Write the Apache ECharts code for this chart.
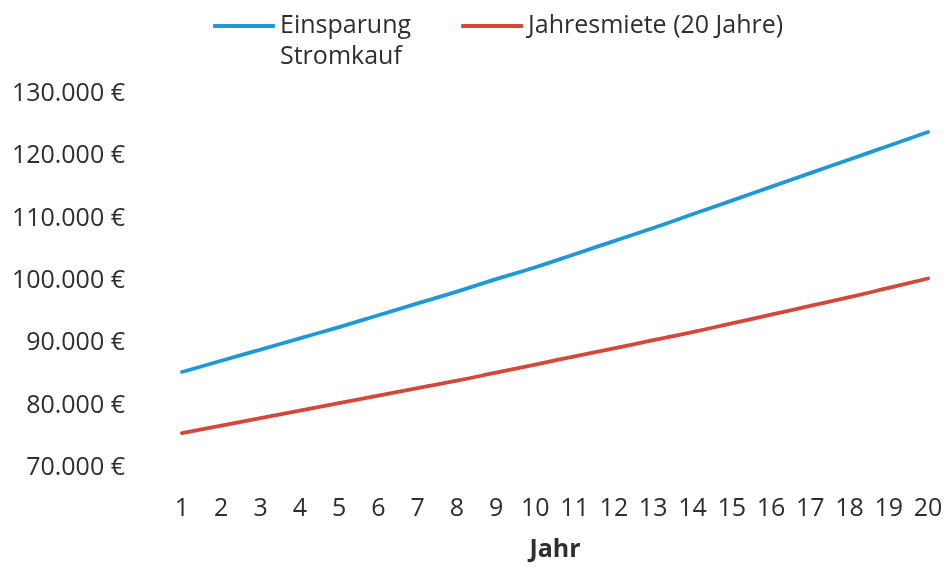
<!DOCTYPE html>
<html>
<head>
<meta charset="utf-8">
<script src="https://cdn.jsdelivr.net/npm/echarts@6/dist/echarts.min.js"></script>
<style>
html,body{margin:0;padding:0;background:#fff;}
#c{width:948px;height:567px;}
</style>
</head>
<body>
<div id="c"></div>
<script>
var years = ['1','2','3','4','5','6','7','8','9','10','11','12','13','14','15','16','17','18','19','20'];
var seriesNames = ['Einsparung Stromkauf', 'Jahresmiete (20 Jahre)'];
var einsparung = [85400, 87200, 89000, 90800, 92600, 94500, 96400, 98300, 100300, 102200, 104300, 106400, 108500, 110700, 112900, 115100, 117300, 119500, 121700, 123900];
var jahresmiete = [75600, 76800, 78000, 79200, 80400, 81600, 82800, 84000, 85300, 86600, 87900, 89200, 90500, 91800, 93200, 94600, 96000, 97400, 98900, 100400];
var yMin = 70000, yMax = 130000, yStep = 10000;
var xTitle = 'Jahr';

function fmt(v) {
  var s = String(Math.round(v));
  return s.replace(/\B(?=(\d{3})+(?!\d))/g, '.') + ' €';
}

var font = 'Open Sans';
var txt = '#2e2e2e';
var fs = 25;
var lh = 31;
var chart = echarts.init(document.getElementById('c'), null, {renderer: 'canvas'});
chart.setOption({
  backgroundColor: '#ffffff',
  animation: false,
  legend: {
    left: 213,
    top: 26 - 1.5 * lh,
    padding: 0,
    itemWidth: 62,
    itemHeight: 4,
    itemGap: 50,
    icon: 'roundRect',
    formatter: function (n) { return n === seriesNames[0] ? ' \nEinsparung\nStromkauf' : n; },
    textStyle: {fontFamily: font, fontSize: fs, color: txt, lineHeight: lh},
    data: [seriesNames[0], seriesNames[1]]
  },
  grid: {left: 182, right: 20, top: 94, bottom: 99, containLabel: false},
  xAxis: {
    type: 'category',
    data: years,
    boundaryGap: false,
    axisLine: {show: false},
    axisTick: {show: false},
    axisLabel: {interval: 0, margin: 28, fontFamily: font, fontSize: fs, color: txt},
    name: xTitle,
    nameLocation: 'middle',
    nameGap: 69,
    nameTextStyle: {fontFamily: font, fontSize: fs, fontWeight: 'bold', color: txt}
  },
  yAxis: {
    type: 'value',
    min: yMin,
    max: yMax,
    interval: yStep,
    axisLine: {show: false},
    axisTick: {show: false},
    splitLine: {show: false},
    axisLabel: {margin: 57, fontFamily: font, fontSize: fs, color: txt, formatter: fmt}
  },
  series: [
    {name: seriesNames[0], type: 'line', data: einsparung, showSymbol: false, smooth: true,
     lineStyle: {width: 3.8, color: '#1f98d6', cap: 'round'}, itemStyle: {color: '#1f98d6'}},
    {name: seriesNames[1], type: 'line', data: jahresmiete, showSymbol: false, smooth: true,
     lineStyle: {width: 3.8, color: '#d4473b', cap: 'round'}, itemStyle: {color: '#d4473b'}}
  ]
});
</script>
</body>
</html>
